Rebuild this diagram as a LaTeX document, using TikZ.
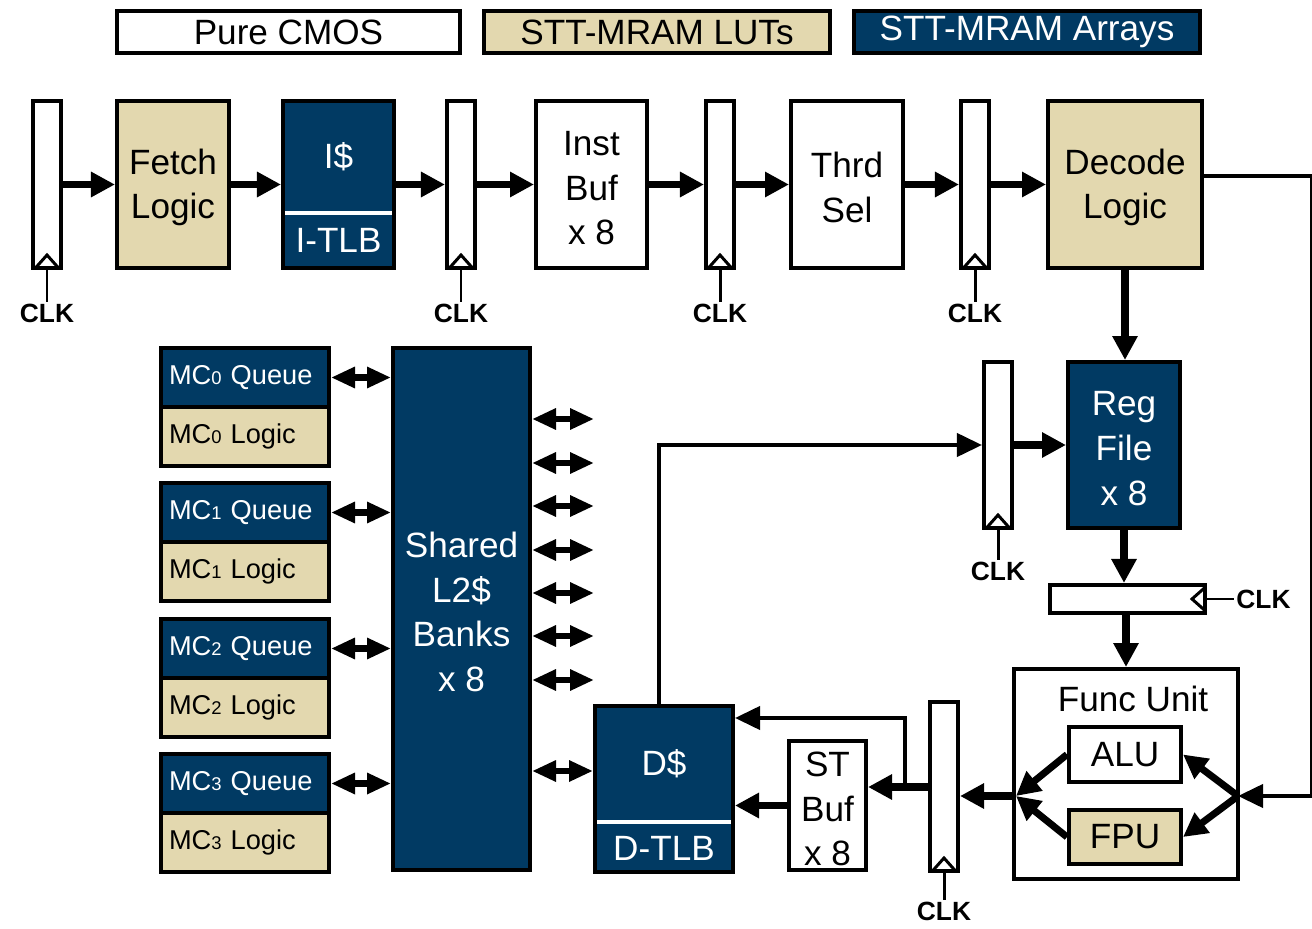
\documentclass[tikz,border=0pt]{standalone}
\usepackage{fontspec}
\setmainfont{Liberation Sans}
\usetikzlibrary{arrows.meta,positioning}

\definecolor{arrbg}{RGB}{1,58,99}
\definecolor{lutbg}{RGB}{227,216,175}
\newcommand{\mcsub}[1]{{\fontsize{10.5}{10.5}\selectfont #1}}

\tikzset{
  box/.style={draw, line width=2.3pt, align=center, inner sep=0pt,
    font=\fontsize{20}{25.5}\selectfont},
  cmos/.style={box, fill=white},
  lut/.style={box, fill=lutbg},
  mram/.style={box, fill=arrbg, text=white},
  mlbl/.style={text=white, inner sep=0pt, font=\fontsize{20}{25.5}\selectfont},
  mc/.style={minimum height=1.18cm, text width=3.04cm, inner xsep=0.16cm,
    align=left, font=\fontsize{15.5}{18}\selectfont},
  latch/.style={draw, line width=2.3pt, fill=white, minimum width=0.56cm,
    minimum height=3.34cm},
  clock/.style={line width=1.7pt},
  chev/.style={line width=1.7pt, miter limit=4},
  clklbl/.style={font=\bfseries\fontsize{15}{15}\selectfont, inner sep=0.5pt},
  flow/.style={line width=4pt, -{Triangle[length=0.48cm,width=0.48cm]}},
  wire/.style={line width=2.3pt},
  wirea/.style={wire, -{Triangle[length=0.5cm,width=0.46cm]}},
  bidir/.style={line width=3.6pt,
    {Triangle[length=0.48cm,width=0.4cm]}-{Triangle[length=0.48cm,width=0.4cm]}},
}

\begin{document}
\begin{tikzpicture}[x=0.02cm, y=-0.02cm]
    \useasboundingbox (0,0) rectangle (1312,929);

    % Legend
    \node[cmos, minimum width=6.86cm, minimum height=0.84cm] (kcmos) at (288.5,32) {Pure CMOS};
    \node[lut, minimum width=6.92cm, minimum height=0.84cm] (klut) at (657,32) {STT-MRAM LUTs};
    \node[mram, minimum width=6.92cm, minimum height=0.84cm] (karr) at (1027,32) {STT-MRAM Arrays};

    % Front end
    \node[latch] (l1) at (47,184.5) {};
    \node[lut, minimum width=2.24cm, minimum height=3.34cm] (fetch) at (173,184.5) {\strut Fetch\\Logic};
    \node[mram, minimum width=2.22cm, minimum height=3.34cm] (icache) at (338.5,184.5) {};
    \node[mlbl] (ilbl) at (338.5,157) {I\$};
    \node[mlbl] (itlb) at (338.5,240) {I-TLB};
    \coordinate (idiv) at (338.5,213);
    \draw[white, line width=2.3pt, shorten <=2.4pt, shorten >=2.4pt] (idiv -| icache.west) -- (idiv -| icache.east);
    \node[latch] (l2) at (461,184.5) {};
    \node[cmos, minimum width=2.22cm, minimum height=3.34cm] (ibuf) at (591.5,184.5) {\strut Inst\\Buf\\x 8};
    \node[latch] (l3) at (720,184.5) {};
    \node[cmos, minimum width=2.24cm, minimum height=3.34cm] (thrd) at (847,184.5) {\strut Thrd\\Sel};
    \node[latch] (l4) at (975,184.5) {};
    \node[lut, minimum width=3.08cm, minimum height=3.34cm] (decode) at (1125,184.5) {\strut Decode\\Logic};

    \draw[flow] (l1.east) -- (fetch.west);
    \draw[flow] (fetch.east) -- (icache.west);
    \draw[flow] (icache.east) -- (l2.west);
    \draw[flow] (l2.east) -- (ibuf.west);
    \draw[flow] (ibuf.east) -- (l3.west);
    \draw[flow] (l3.east) -- (thrd.west);
    \draw[flow] (thrd.east) -- (l4.west);
    \draw[flow] (l4.east) -- (decode.west);

    % Register file and execute
    \node[mram, minimum width=2.24cm, minimum height=3.32cm] (reg) at (1124,445) {\strut Reg\\File\\x 8};
    \node[latch, minimum height=3.32cm] (l5) at (998,445) {};
    \node[latch, minimum width=3.1cm, minimum height=0.56cm] (hl) at (1127.5,599) {};
    \node[cmos, minimum width=4.48cm, minimum height=4.2cm] (fu) at (1126,774) {};
    \node[inner sep=0pt, font=\fontsize{20}{25.5}\selectfont] (fulbl) at (1133,699) {Func Unit};
    \node[cmos, minimum width=2.24cm, minimum height=1.1cm] (alu) at (1125,754.5) {ALU};
    \node[lut, minimum width=2.24cm, minimum height=1.08cm] (fpu) at (1125,837) {FPU};
    \coordinate (ljoin) at (1016,796);
    \coordinate (rjoin) at (1238,796);

    \draw[flow] (decode.south) -- (decode.south |- reg.north);
    \draw[flow] (l5.east) -- (reg.west);
    \draw[flow] (reg.south) -- (reg.south |- hl.north);
    \draw[flow] (hl.south -| fu.north) -- (fu.north);
    \draw[flow] (alu.west) -- (ljoin);
    \draw[flow] (fpu.west) -- (ljoin);
    \draw[flow] (rjoin) -- (alu.east);
    \draw[flow] (rjoin) -- (fpu.east);
    \draw[wirea] ([yshift=0.17cm]decode.east) -- ++(108,0) |- (rjoin);

    % Memory side
    \node[latch, minimum height=3.38cm] (l6) at (944,786.5) {};
    \node[cmos, minimum width=1.54cm, minimum height=2.58cm] (stbuf) at (827.5,805.5) {\strut ST\\Buf\\x 8};
    \node[mram, minimum width=2.76cm, minimum height=3.32cm] (dcache) at (664,789) {};
    \node[mlbl] (dlbl) at (664,764) {D\$};
    \node[mlbl] (dtlb) at (664,848) {D-TLB};
    \coordinate (ddiv) at (664,822);
    \draw[white, line width=2.3pt, shorten <=2.4pt, shorten >=2.4pt] (ddiv -| dcache.west) -- (ddiv -| dcache.east);
    \coordinate (tap) at (905,787);

    \draw[flow] (ljoin) -- (ljoin -| l6.east);
    \draw[flow] (tap -| l6.west) -- (tap -| stbuf.east);
    \draw[wirea] (tap) |- ([yshift=-0.28cm]dcache.north east);
    \draw[flow] (stbuf.west) -- (stbuf.west -| dcache.east);
    \draw[wirea] ([xshift=-0.1cm]dcache.north) |- (l5.west);

    % Shared L2 and memory controllers
    \node[mram, minimum width=2.74cm, minimum height=10.44cm] (l2bank) at (461.5,609) {\strut Shared\\L2\$\\Banks\\x 8};
    \foreach \i/\t in {0/348,1/483,2/619,3/754} {
        \node[mram, mc] (mcq\i) at (245,{\t+29.5}) {MC\mcsub{\i} Queue};
        \node[lut, mc] (mcl\i) at (245,{\t+88.5}) {MC\mcsub{\i} Logic};
        \draw[bidir] (mcq\i.east) -- (mcq\i.east -| l2bank.west);
    }
    \foreach \y in {419,463,506,550,593,636,680}
        \draw[bidir] (l2bank.east |- 0,\y) -- ++(62,0);
    \draw[bidir] (l2bank.east |- 0,771) -- (dcache.west |- 0,771);

    % Clocks
    \foreach \l/\len in {l1/32,l2/32,l3/32,l4/32,l5/30,l6/27} {
        \draw[chev] ([xshift=2.6pt,yshift=1.2pt]\l.south west) -- ([yshift=0.3cm]\l.south)
            -- ([xshift=-2.6pt,yshift=1.2pt]\l.south east);
        \draw[clock] (\l.south) -- ++(0,\len) node[clklbl, below] (clk\l) {CLK};
    }
    \draw[chev] ([xshift=-1.2pt,yshift=-2.6pt]hl.north east) -- ([xshift=-0.3cm]hl.east)
        -- ([xshift=-1.2pt,yshift=2.6pt]hl.south east);
    \draw[clock] (hl.east) -- ++(27,0) node[clklbl, right] (clkhl) {CLK};
\end{tikzpicture}
\end{document}
